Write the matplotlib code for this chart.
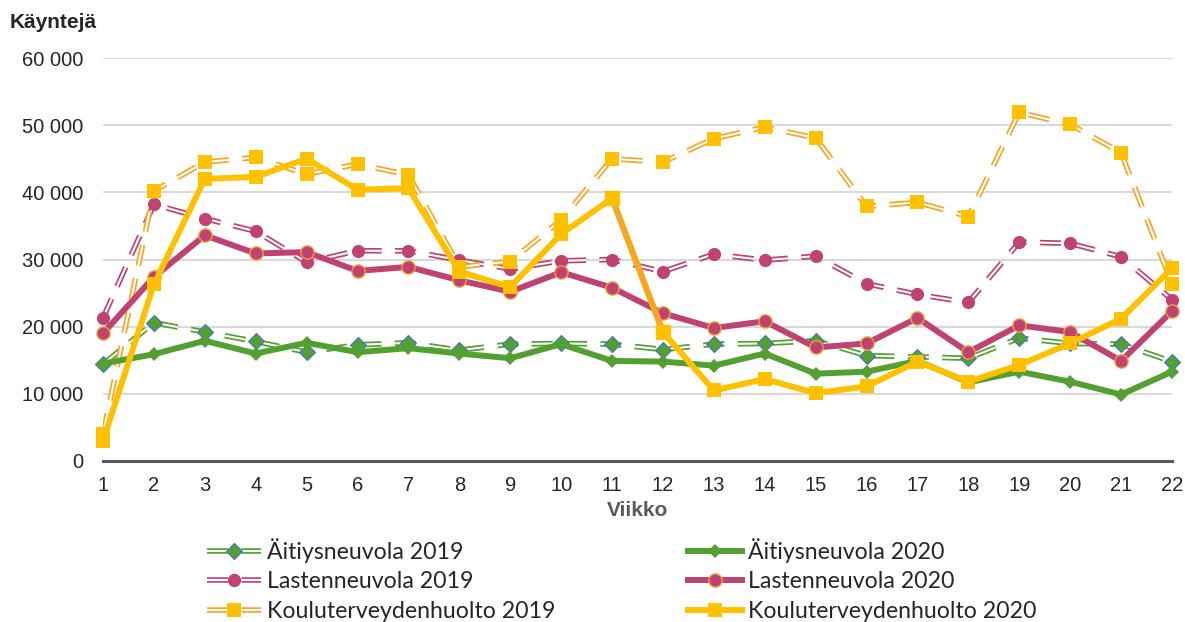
import matplotlib
matplotlib.use("Agg")
import matplotlib.pyplot as plt
import matplotlib.patheffects as pe
from matplotlib.legend_handler import HandlerTuple

weeks = list(range(1, 23))

aitiys_2019 = [14400, 20600, 19200, 17800, 16200, 17300, 17600, 16500, 17400, 17500, 17400,
               16600, 17400, 17500, 17900, 15700, 15500, 15300, 18300, 17500, 17400, 14800]
aitiys_2020 = [14500, 15900, 17900, 16000, 17600, 16200, 16800, 16000, 15300, 17400, 14900,
               14800, 14200, 16000, 13000, 13300, 14900, 11700, 13300, 11800, 9900, 13300]
lasten_2019 = [21300, 38200, 36100, 34200, 29600, 31300, 31300, 29900, 28600, 29800, 30000,
               28200, 30800, 29900, 30500, 26400, 24800, 23600, 32600, 32400, 30400, 24000]
lasten_2020 = [19000, 27400, 33600, 30900, 31100, 28300, 28900, 26900, 25200, 28100, 25800,
               22000, 19800, 20800, 16900, 17500, 21300, 16200, 20200, 19200, 14900, 22300]
koulu_2019 = [4000, 40200, 44500, 45200, 42700, 44200, 42600, 28900, 29700, 35900, 45000,
              44500, 48000, 49700, 48100, 37900, 38500, 36400, 51900, 50100, 45900, 26400]
koulu_2020 = [3000, 26300, 42000, 42300, 45000, 40400, 40600, 28200, 25900, 33800, 39100,
              19200, 10500, 12200, 10100, 11100, 14800, 11800, 14300, 17500, 21200, 28700]

labels_2019 = ["Äitiysneuvola 2019", "Lastenneuvola 2019", "Kouluterveydenhuolto 2019"]
labels_2020 = ["Äitiysneuvola 2020", "Lastenneuvola 2020", "Kouluterveydenhuolto 2020"]

GREEN = "#52A032"
MAGENTA = "#BF4272"
YELLOW = "#FFC000"
ORANGE = "#F5A623"
BLUE = "#4472C4"

plt.rcParams["font.family"] = ["Liberation Sans", "DejaVu Sans"]

fig = plt.figure(figsize=(11.85, 6.22), dpi=100)
ax = fig.add_axes([103 / 1185, 1 - 461 / 622, (1172 - 103) / 1185, (461 - 58) / 622])

ax.set_xlim(1, 22)
ax.set_ylim(0, 60000)
ax.set_xticks(weeks)
ax.set_yticks(range(0, 60001, 10000))
ax.yaxis.set_major_formatter(lambda v, p: f"{int(v):,}".replace(",", " "))
ax.tick_params(length=0, labelsize=14.5, colors="#262626")
ax.tick_params(axis="y", pad=14)
ax.tick_params(axis="x", pad=11)
ax.grid(axis="y", color="#D9D9D9", lw=1.5)
ax.set_axisbelow(True)
for s in ["top", "right", "left"]:
    ax.spines[s].set_visible(False)
ax.spines["bottom"].set_color("#595959")
ax.spines["bottom"].set_linewidth(2.2)
ax.spines["bottom"].set_zorder(2)


def double_dash(y, color, marker, ms, mfc, mec, mew, z):
    ln, = ax.plot(weeks, y, color=color, lw=4.0, ls=(0, (3.8, 2.4)), zorder=z,
                  path_effects=[pe.Stroke(linewidth=4.0, foreground=color),
                                pe.Stroke(linewidth=1.5, foreground="white")])
    mk, = ax.plot(weeks, y, ls="none", marker=marker, ms=ms, mfc=mfc, mec=mec,
                  mew=mew, zorder=z + 0.5, clip_on=False)
    return (ln, mk)


def solid(y, color, marker, ms, mfc, mec, mew, z):
    ln, = ax.plot(weeks, y, color=color, lw=4.3, marker=marker, ms=ms, mfc=mfc,
                  mec=mec, mew=mew, zorder=z, clip_on=False, solid_joinstyle="miter")
    return ln


h19 = [
    double_dash(aitiys_2019, GREEN, "D", 8, GREEN, BLUE, 0.8, 3),
    double_dash(lasten_2019, MAGENTA, "o", 9.5, MAGENTA, MAGENTA, 0, 4),
    double_dash(koulu_2019, ORANGE, "s", 10, YELLOW, YELLOW, 0, 5),
]
h20 = [
    solid(aitiys_2020, GREEN, "D", 7, GREEN, GREEN, 0, 6),
    solid(lasten_2020, MAGENTA, "o", 9.5, MAGENTA, "#F0A030", 1.0, 7),
    solid(koulu_2020, YELLOW, "s", 10, YELLOW, YELLOW, 0, 8),
]
# the week 11-12 drop is drawn in orange in the original
ax.plot(weeks[10:12], koulu_2020[10:12], color=ORANGE, lw=4.3, zorder=8.2)
ax.plot(weeks[10:12], koulu_2020[10:12], ls="none", marker="s", ms=10, color=YELLOW,
        zorder=8.4)

fig.text(10 / 1185, 1 - 22 / 622, "Käyntejä", fontsize=15, fontweight="bold",
         color="#262626", va="center", ha="left")
ax.set_xlabel("Viikko", fontsize=15, fontweight="bold", color="#595959", labelpad=4)

leg = fig.legend(h19 + h20, labels_2019 + labels_2020, ncol=2,
                 handler_map={tuple: HandlerTuple(ndivide=1, pad=0)},
                 loc="upper left", bbox_to_anchor=(207 / 1185, 1 - 538 / 622),
                 frameon=False, prop={"family": "Lato", "size": 16.7},
                 handlelength=2.33, handletextpad=0.26, columnspacing=5.7,
                 labelspacing=0.37, borderaxespad=0, borderpad=0)
for t in leg.get_texts():
    t.set_color("#262626")

fig.savefig("out.png", dpi=100)
